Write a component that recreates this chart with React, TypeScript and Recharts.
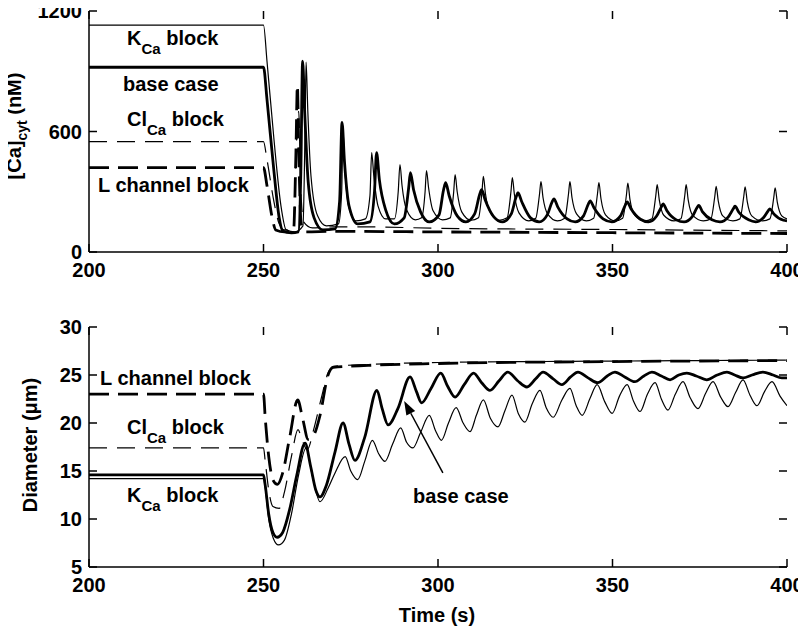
import React from 'react';
import { LineChart, Line, XAxis, YAxis, ReferenceLine } from 'recharts';

const FONT = '"Liberation Sans", Arial, Helvetica, sans-serif';

// x axis (time, s)
const timeTicks = [200, 250, 300, 350, 400];
const caTicks = [0, 600, 1200];
const diamTicks = [5, 10, 15, 20, 25, 30];

// ---- [Ca]cyt (nM) ----
const caBase: [number, number][] = [
  [200, 920], [250, 920], [251, 760], [253, 400], [254.5, 170], [255.5, 105], [258, 95], [260, 100],
  [260.7, 400], [261.2, 950], [261.8, 700], [262.8, 350], [264.5, 170], [267, 110], [270.5, 115],
  [271.8, 250], [272.5, 645], [273.2, 450], [274.5, 230], [277, 140], [280.5, 150], [281.8, 300],
  [282.4, 495], [283.2, 360], [285, 210], [287.5, 140], [290.3, 170], [291.6, 320], [292.1, 395],
  [293, 310], [295, 200], [297.5, 150], [300.3, 185], [301.6, 310], [302.2, 345], [303.2, 280],
  [305.5, 180], [308, 150], [310.5, 190], [312, 290], [312.5, 310], [313.5, 260], [316, 175],
  [318.5, 150], [321, 190], [322.4, 275], [322.9, 295], [324, 250], [326.5, 170], [329, 150],
  [331.3, 185], [332.7, 250], [333.2, 265], [334.3, 225], [337, 165], [339.3, 150], [341.7, 180],
  [343.1, 240], [343.6, 255], [344.7, 220], [347.3, 165], [349.8, 150], [352.3, 180], [353.7, 235],
  [354.2, 250], [355.3, 215], [358, 163], [360.3, 150], [362.6, 178], [364, 225], [364.5, 240],
  [365.6, 205], [368.3, 160], [370.5, 150], [372.8, 175], [374.2, 220], [374.7, 232], [375.8, 200],
  [378.5, 160], [380.8, 150], [383.2, 175], [384.6, 215], [385.1, 228], [386.2, 198], [389, 160],
  [391, 150], [393.3, 172], [394.6, 205], [395.1, 215], [396.2, 190], [399, 158], [400, 155],
];
const caKCa: [number, number][] = [
  [200, 1130], [250, 1130], [251, 950], [253, 560], [255, 230], [256.5, 110], [259, 100], [261.3, 130],
  [261.9, 600], [262.2, 945], [262.7, 700], [263.6, 380], [265.5, 180], [268, 130], [271.5, 140],
  [272.4, 300], [272.8, 600], [273.3, 420], [274.5, 220], [276.5, 155], [279.2, 165], [280.5, 280],
  [281, 495], [281.6, 380], [282.8, 230], [285, 165], [287.5, 165], [288.6, 300], [289.1, 435],
  [289.7, 330], [291, 210], [293.5, 160], [295.3, 170], [296.3, 300], [296.7, 405], [297.3, 320],
  [298.6, 205], [301.3, 160], [303.5, 170], [304.5, 300], [304.9, 385], [305.5, 300], [306.8, 200],
  [309.5, 158], [311.6, 170], [312.6, 300], [313, 377], [313.6, 290], [314.9, 200], [317.5, 158],
  [319.8, 170], [320.9, 300], [321.3, 370], [321.9, 285], [323.2, 195], [326, 155], [328, 168],
  [329.1, 290], [329.5, 350], [330.1, 270], [331.4, 190], [334.2, 155], [336.3, 168], [337.4, 290],
  [337.8, 350], [338.4, 270], [339.7, 190], [342.5, 155], [344.6, 168], [345.7, 290], [346.1, 345],
  [346.7, 265], [348, 185], [350.8, 155], [352.9, 168], [354, 285], [354.4, 343], [355, 262],
  [356.3, 185], [359.2, 155], [361.3, 166], [362.4, 280], [362.8, 335], [363.4, 260], [364.7, 183],
  [367.6, 155], [369.6, 166], [370.7, 280], [371.1, 335], [371.7, 258], [373, 182], [376, 155],
  [378.2, 165], [379.3, 275], [379.7, 327], [380.3, 255], [381.6, 180], [384.5, 155], [386.5, 165],
  [387.6, 275], [388, 325], [388.6, 252], [389.9, 180], [393, 155], [395.1, 165], [396.2, 270],
  [396.6, 320], [397.2, 250], [398.5, 180], [400, 165],
];
const caClCa: [number, number][] = [
  [200, 550], [250, 550], [251, 460], [253, 250], [254.5, 140], [256, 110], [258.5, 115], [259.6, 600],
  [260.1, 700], [260.6, 350], [261.5, 150], [264, 120], [270, 125], [280, 125], [300, 118], [350, 112],
  [400, 105],
];
const caLch: [number, number][] = [
  [200, 420], [250, 420], [251, 330], [252.5, 170], [253.5, 110], [256, 100], [258.6, 105], [259.3, 500],
  [259.7, 830], [260.2, 420], [260.8, 140], [262, 100], [270, 103], [300, 100], [350, 96], [400, 92],
];

// ---- Diameter (um) ----
const dBase: [number, number][] = [
  [200, 14.6], [250, 14.6], [250.5, 13.5], [251.5, 10.5], [252.7, 8.6], [253.9, 8.1], [255.5, 8.6],
  [257.5, 11], [259.5, 14.5], [261.9, 17.9], [263.5, 15.5], [265, 13], [266.2, 12.3], [268, 13.5],
  [270.5, 17], [272.8, 20.0], [274.5, 17.8], [276.2, 16.1], [279, 18.5], [282.5, 23.4], [284, 21.5],
  [285.7, 19.8], [288.5, 21.5], [292, 24.8], [293.8, 23.3], [295.3, 22.1], [298, 23.6], [300.8, 25.2],
  [302.8, 23.8], [304.9, 22.7], [307.5, 24], [310.2, 25.2], [312.5, 24.2], [314.9, 23.4], [317.5, 24.4],
  [320, 25.3], [322.8, 24.4], [325.5, 23.75], [328, 24.6], [330.1, 25.3], [333, 24.6], [335.5, 24.0],
  [338, 24.8], [340.1, 25.3], [343, 24.7], [345.8, 24.2], [348.5, 24.9], [350.7, 25.3], [353.5, 24.8],
  [356.4, 24.3], [359, 24.9], [361.3, 25.3], [364, 24.9], [366.5, 24.5], [369, 25], [371.3, 25.2],
  [374, 24.9], [377, 24.5], [380, 25], [382.8, 25.3], [385, 25], [387.4, 24.7], [390, 25], [393.1, 25.3],
  [396, 25], [398.5, 24.7], [400, 24.7],
];
const dKCa: [number, number][] = [
  [200, 14.2], [250, 14.2], [250.5, 13.2], [251.5, 10], [252.8, 8], [254.3, 7.3], [256, 7.8], [258, 10.5],
  [260, 14.5], [262.2, 17.4], [264, 14.5], [266.2, 11.8], [268.5, 13.2], [270.5, 14.8], [273.4, 16.5],
  [275, 15], [277, 14.1], [279, 16], [281.2, 18.2], [283, 16.8], [284.8, 16.0], [287, 17.8], [289.3, 19.5],
  [291, 18], [292.8, 17.4], [295, 19], [297.5, 20.8], [299.3, 19.2], [301, 18.2], [303, 20], [305.2, 21.6],
  [307.2, 20], [309.2, 19.1], [311, 20.8], [313, 22.4], [315, 20.5], [317.2, 19.6], [319.2, 21.3],
  [321.2, 22.9], [323, 21], [324.9, 20.1], [327, 22], [329.2, 23.4], [331, 21.6], [333, 20.6], [335.5, 22.4],
  [337.8, 23.6], [339.6, 21.8], [341.3, 20.8], [343.6, 22.6], [345.6, 24.0], [347.8, 22.2], [349.9, 21.0],
  [352, 22.8], [354.2, 24.0], [356, 22.3], [357.9, 21.2], [360, 23], [362.2, 24.2], [364, 22.5],
  [365.9, 21.35], [368, 23], [370.2, 24.3], [372.3, 22.6], [374.5, 21.5], [376.7, 23.1], [378.8, 24.3],
  [381, 22.7], [383.1, 21.7], [385.3, 23.2], [387.4, 24.5], [389.4, 22.9], [391.4, 21.8], [393.6, 23.3],
  [395.7, 24.3], [398, 22.8], [400, 21.8],
];
const dClCa: [number, number][] = [
  [200, 17.4], [250, 17.4], [250.5, 16], [251.5, 13], [252.7, 11.3], [254.5, 11.1], [256, 12.8],
  [258, 16.5], [259.9, 19.3], [261, 18.3], [262.5, 17.2], [264.5, 19.5], [266.5, 22.5], [268.5, 25.2],
  [270, 25.9], [280, 26.1], [300, 26.3], [350, 26.45], [400, 26.55],
];
const dLch: [number, number][] = [
  [200, 23], [250, 23], [250.5, 20.5], [251.5, 16.5], [252.8, 14], [254, 13.6], [255.5, 14.8],
  [257.5, 18.5], [259.8, 22.4], [261.2, 20.5], [262.8, 18.3], [264.5, 18.8], [266.2, 20.8], [268.5, 25],
  [270, 25.8], [280, 26], [300, 26.2], [350, 26.4], [400, 26.5],
];

// arrow annotation (data coords): tail -> head
const arrowSeg = [{ x: 301.4, y: 14.8 }, { x: 290.3, y: 22.3 }];

const toPts = (a: [number, number][]) => a.map(([t, v]) => ({ t, v }));

const AX = { stroke: '#000', strokeWidth: 1.5 };
const TL = 8; // inward tick length
const labelFont = { fontFamily: FONT, fontWeight: 'bold' as const, fontSize: 20, fill: '#000' };

const THIN = 1.2;
const THICK = 2.8;

const BottomTick = (p: any) => (
  <text x={p.x} y={p.y + 11} dy="0.72em" textAnchor="middle" {...labelFont}>
    {p.payload.value}
  </text>
);
const LeftTick = (p: any) => (
  <text x={p.x - 7} y={p.y} dy="0.36em" textAnchor="end" {...labelFont}>
    {p.payload.value}
  </text>
);

// short inward tick marks at both ends of a full-span reference line
const TickPair = (p: any) => {
  const { x1, y1, x2, y2 } = p;
  if ([x1, y1, x2, y2].some((v) => typeof v !== 'number' || isNaN(v))) return <g />;
  const dx = x2 - x1;
  const dy = y2 - y1;
  const len = Math.sqrt(dx * dx + dy * dy) || 1;
  const ux = (dx / len) * TL;
  const uy = (dy / len) * TL;
  return (
    <g>
      <line x1={x1} y1={y1} x2={x1 + ux} y2={y1 + uy} stroke="#000" strokeWidth={1.5} />
      <line x1={x2} y1={y2} x2={x2 - ux} y2={y2 - uy} stroke="#000" strokeWidth={1.5} />
    </g>
  );
};

function axes(yDomain: [number, number], yTicks: number[], xHeight: number) {
  return [
    <XAxis key="xb" xAxisId="b" type="number" dataKey="t" domain={[200, 400]} ticks={timeTicks}
      interval={0} allowDataOverflow height={xHeight} tickSize={0} tickMargin={0} tick={BottomTick}
      axisLine={AX} tickLine={false} />,
    <XAxis key="xt" xAxisId="t" orientation="top" type="number" domain={[200, 400]}
      ticks={timeTicks} interval={0} allowDataOverflow height={0} tick={false} axisLine={AX}
      tickLine={false} />,
    <YAxis key="yl" yAxisId="l" type="number" domain={yDomain} ticks={yTicks} interval={0}
      allowDataOverflow width={89} tickSize={0} tickMargin={0} tick={LeftTick} axisLine={AX}
      tickLine={false} />,
    <YAxis key="yr" yAxisId="r" orientation="right" type="number" domain={yDomain}
      ticks={yTicks} interval={0} allowDataOverflow width={0} tick={false} axisLine={AX}
      tickLine={false} />,
    ...timeTicks.map((t) => (
      <ReferenceLine key={'tx' + t} xAxisId="b" yAxisId="l" x={t} shape={TickPair} ifOverflow="visible" />
    )),
    ...yTicks.map((v) => (
      <ReferenceLine key={'ty' + v} xAxisId="b" yAxisId="l" y={v} shape={TickPair} ifOverflow="visible" />
    )),
  ];
}

function series(data: [number, number][], width: number, dashed: boolean, key: string) {
  return (
    <Line
      key={key}
      xAxisId="b"
      yAxisId="l"
      data={toPts(data)}
      dataKey="v"
      type="monotone"
      stroke="#000"
      strokeWidth={width}
      strokeDasharray={dashed ? (width > 2 ? '20 9' : '18 10') : undefined}
      dot={false}
      activeDot={false}
      isAnimationActive={false}
      connectNulls
    />
  );
}

const ArrowShape = (p: any) => {
  const { x1, y1, x2, y2 } = p;
  if ([x1, y1, x2, y2].some((v) => typeof v !== 'number' || isNaN(v))) return <g />;
  const dx = x2 - x1;
  const dy = y2 - y1;
  const len = Math.sqrt(dx * dx + dy * dy);
  const ux = dx / len;
  const uy = dy / len;
  const hl = 14;
  const hw = 5;
  const bx = x2 - ux * hl;
  const by = y2 - uy * hl;
  return (
    <g>
      <line x1={x1} y1={y1} x2={bx} y2={by} stroke="#000" strokeWidth={1.5} />
      <polygon
        points={`${x2},${y2} ${bx - uy * hw},${by + ux * hw} ${bx + uy * hw},${by - ux * hw}`}
        fill="#000"
      />
    </g>
  );
};

const txt = labelFont;

function Sub(props: { x: number; y: number; main: string; sub: string; rest: string }) {
  return (
    <text x={props.x} y={props.y} {...txt} xmlSpace="preserve">
      {props.main}
      <tspan fontSize={15} dy={9}>{props.sub}</tspan>
      <tspan dy={-9}>{props.rest}</tspan>
    </text>
  );
}

export default function App() {
  return (
    <div style={{ position: 'relative', width: 806, height: 634, margin: -8, background: '#fff' }}>
      <div style={{ position: 'absolute', left: 0, top: 0 }}>
        <LineChart width={806} height={300} margin={{ top: 11, right: 19, bottom: 0, left: 0 }}>
          {axes([0, 1200], caTicks, 48)}
          {series(caLch, THICK, true, 'lch')}
          {series(caClCa, THIN, true, 'clca')}
          {series(caKCa, THIN, false, 'kca')}
          {series(caBase, THICK, false, 'base')}
        </LineChart>
      </div>
      <div style={{ position: 'absolute', left: 0, top: 300 }}>
        <LineChart width={806} height={334} margin={{ top: 27, right: 19, bottom: 0, left: 0 }}>
          {axes([5, 30], diamTicks, 67)}
          {series(dLch, THICK, true, 'lch')}
          {series(dClCa, THIN, true, 'clca')}
          {series(dKCa, THIN, false, 'kca')}
          {series(dBase, THICK, false, 'base')}
          <ReferenceLine
            xAxisId="b"
            yAxisId="l"
            segment={arrowSeg}
            shape={ArrowShape}
            ifOverflow="visible"
          />
        </LineChart>
      </div>
      <svg
        width={806}
        height={634}
        style={{ position: 'absolute', left: 0, top: 0, pointerEvents: 'none' }}
      >
        {/* axis titles */}
        <text transform="translate(21,126) rotate(-90)" textAnchor="middle" {...txt} xmlSpace="preserve">
          [Ca]<tspan fontSize={14} dy={6}>cyt</tspan><tspan dy={-6}> (nM)</tspan>
        </text>
        <text transform="translate(37,445) rotate(-90)" textAnchor="middle" {...txt}>
          Diameter (μm)
        </text>
        <text x={437} y={622} textAnchor="middle" {...txt}>
          Time (s)
        </text>
        {/* top panel annotations */}
        <Sub x={127} y={45} main="K" sub="Ca" rest=" block" />
        <text x={123} y={91} {...txt}>base case</text>
        <Sub x={127} y={126} main="Cl" sub="Ca" rest=" block" />
        <text x={98} y={192} {...txt}>L channel block</text>
        {/* bottom panel annotations */}
        <text x={100} y={385} {...txt}>L channel block</text>
        <Sub x={127} y={434} main="Cl" sub="Ca" rest=" block" />
        <Sub x={127} y={502} main="K" sub="Ca" rest=" block" />
        <text x={413} y={503} {...txt}>base case</text>
      </svg>
    </div>
  );
}
